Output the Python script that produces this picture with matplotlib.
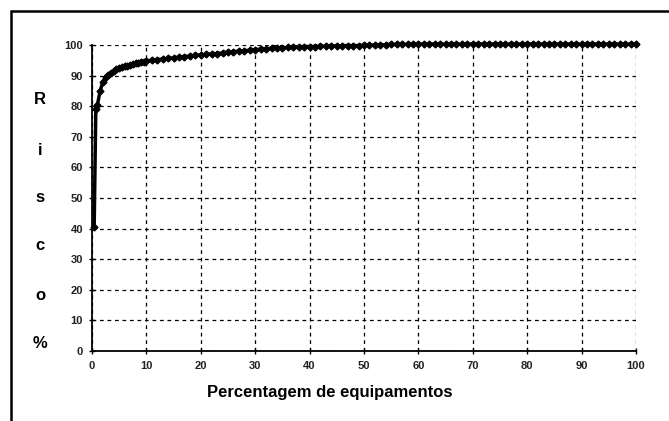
import matplotlib
matplotlib.use("Agg")
import matplotlib.pyplot as plt
from matplotlib.patches import Rectangle

plt.rcParams['font.family'] = ['Liberation Sans', 'DejaVu Sans']

pct_equip = [0.4, 0.7, 1.0, 1.5, 2.0, 2.5, 3.0, 3.5, 4, 4.5, 5, 5.5, 6,
             6.5, 7, 7.5, 8, 8.5, 9, 9.5, 10,
             11, 12, 13, 14, 15, 16, 17, 18, 19, 20,
             21, 22, 23, 24, 25, 26, 27, 28, 29, 30,
             31, 32, 33, 34, 35, 36, 37, 38, 39, 40,
             41, 42, 43, 44, 45, 46, 47, 48, 49, 50,
             51, 52, 53, 54, 55, 56, 57, 58, 59, 60,
             61, 62, 63, 64, 65, 66, 67, 68, 69, 70,
             71, 72, 73, 74, 75, 76, 77, 78, 79, 80,
             81, 82, 83, 84, 85, 86, 87, 88, 89, 90,
             91, 92, 93, 94, 95, 96, 97, 98, 99, 100]
risco = [40.5, 79.0, 80.5, 85.0, 88.0, 89.5, 90.3, 91.0, 91.5, 92.0, 92.5,
         92.8, 93.0, 93.3, 93.5, 93.8, 94.0, 94.2, 94.4, 94.6, 94.8,
         95.0, 95.2, 95.4, 95.6, 95.8, 96.0, 96.2, 96.4, 96.6, 96.8,
         96.9, 97.1, 97.2, 97.4, 97.6, 97.8, 98.0, 98.1, 98.3, 98.5,
         98.6, 98.8, 98.9, 99.0, 99.1, 99.2, 99.3, 99.4, 99.5, 99.5,
         99.5, 99.6, 99.6, 99.7, 99.7, 99.8, 99.8, 99.8, 99.8, 99.9,
         99.9, 100.0, 100.0, 100.1, 100.2, 100.2, 100.2, 100.2, 100.3, 100.3,
         100.3, 100.3, 100.3, 100.3, 100.3, 100.3, 100.3, 100.3, 100.3, 100.3,
         100.3, 100.3, 100.3, 100.3, 100.3, 100.3, 100.3, 100.3, 100.3, 100.3,
         100.3, 100.3, 100.3, 100.3, 100.3, 100.3, 100.3, 100.3, 100.3, 100.3,
         100.3, 100.3, 100.3, 100.3, 100.3, 100.3, 100.3, 100.3, 100.3, 100.3]

x_ticks = list(range(0, 101, 10))
y_ticks = list(range(0, 101, 10))
ylabel_letters = ['R', 'i', 's', 'c', 'o', '%']
xlabel_text = 'Percentagem de equipamentos'

W, H = 669, 421
fig = plt.figure(figsize=(W / 100, H / 100), dpi=100)
fig.patch.set_facecolor('white')

# outer frame (left and top visible)
fig.patches.append(Rectangle((11 / W, -0.05), 1.2, 1 - 11 / H + 0.05,
                             transform=fig.transFigure, fill=False,
                             edgecolor='black', linewidth=1.8))

ax = fig.add_axes([92 / W, 1 - 351 / H, (636 - 92) / W, (351 - 45) / H])
ax.set_xlim(0, 100)
ax.set_ylim(0, 100)

ax.plot(pct_equip, risco, color='black', linewidth=2.5, marker='D',
        markersize=3.5, clip_on=False, zorder=5)

ax.set_xticks(x_ticks)
ax.set_yticks(y_ticks)
ax.set_xticklabels([str(v) for v in x_ticks], fontsize=8, fontweight='bold',
                   color='#222222')
ax.set_yticklabels([str(v) for v in y_ticks], fontsize=8, fontweight='bold',
                   color='#222222')
ax.tick_params(axis='both', direction='inout', length=5, width=1, color='black')
ax.tick_params(axis='x', pad=5)
ax.tick_params(axis='y', pad=4)

ax.grid(True, color='black', linestyle=(0, (3, 3)), linewidth=0.9)
ax.set_axisbelow(True)
for s in ['top', 'right']:
    ax.spines[s].set_visible(False)
for s in ['left', 'bottom']:
    ax.spines[s].set_linewidth(1.3)

# stacked y label letters
y_positions = [100, 150, 197, 245, 295, 343]
for letter, yp in zip(ylabel_letters, y_positions):
    fig.text(40 / W, 1 - yp / H, letter, fontsize=12, fontweight='bold',
             ha='center', va='center')

fig.text(330 / W, 1 - 392 / H, xlabel_text, fontsize=12, fontweight='bold',
         ha='center', va='center')

fig.savefig('out.png', dpi=100)
